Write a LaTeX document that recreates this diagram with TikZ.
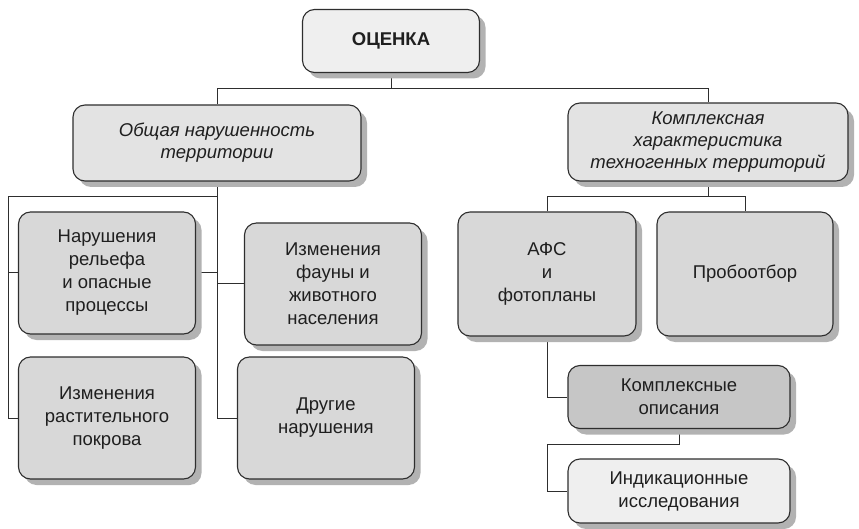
\documentclass[tikz,border=0pt]{standalone}
\usepackage{fontspec}
\setmainfont{Liberation Sans}
\usetikzlibrary{shadows,backgrounds}
\definecolor{edge}{HTML}{2E2E2E}
\definecolor{shade}{HTML}{B2B2B2}
\definecolor{lightfill}{HTML}{EFEFEF}
\definecolor{midfill}{HTML}{E3E3E3}
\definecolor{boxfill}{HTML}{D8D8D8}
\definecolor{darkfill}{HTML}{C6C6C6}

\begin{document}
\begin{tikzpicture}[x=1pt, y=-1pt,
    every node/.style={font=\fontsize{18.5}{23}\selectfont, text=black!88},
    box/.style={draw=edge, line width=1.1pt, rounded corners=12pt, align=center, inner sep=0pt,
      drop shadow={shadow xshift=6pt, shadow yshift=-6pt, fill=shade, opacity=1}},
    tall/.style={box, fill=boxfill, minimum width=177pt, minimum height=122pt},
    link/.style={draw=edge, line width=1pt}]
    \useasboundingbox (0,0) rectangle (859,529);
    \node[box, fill=lightfill, minimum width=177pt, minimum height=63pt, font=\fontsize{18.5}{23}\selectfont\bfseries] (root) at (391,41) {ОЦЕНКА};
    \node[box, fill=midfill, minimum width=288pt, minimum height=76pt, font=\fontsize{18.5}{22}\selectfont\itshape] (gen) at (217,143) {Общая нарушенность\\территории};
    \node[box, fill=midfill, minimum width=280pt, minimum height=78pt, font=\fontsize{18.5}{22}\selectfont\itshape] (tech) at (708,142) {Комплексная\\характеристика\\техногенных территорий};
    \node[tall] (relief) at (107,273) {Нарушения\\рельефа\\и опасные\\процессы};
    \node[tall] (fauna) at (333,284) {Изменения\\фауны и\\животного\\населения};
    \node[tall] (veg) at (107,418) {Изменения\\растительного\\покрова};
    \node[tall] (other) at (326,418) {Другие\\нарушения};
    \node[tall, minimum width=178pt, minimum height=124pt] (afs) at (547,274) {АФС\\и\\фотопланы};
    \node[tall, minimum width=176pt, minimum height=124pt] (probe) at (745,274) {Пробоотбор};
    \node[box, fill=darkfill, minimum width=222pt, minimum height=63pt] (desc) at (679,397) {Комплексные\\описания};
    \node[box, fill=lightfill, minimum width=222pt, minimum height=64pt] (ind) at (679,491) {Индикационные\\исследования};

    \begin{scope}[on background layer]
    \draw[link] (root.south) -- ++(0,15) coordinate (top);
    \draw[link] (gen.north) |- (top) -| (tech.north);
    % left branch
    \draw[link] (gen.south) -- ++(0,15) coordinate (lbus);
    \draw[link] (lbus) -- ++(-209,0) coordinate (lrail);
    \draw[link] (lrail) |- (veg.west);
    \draw[link] (relief.west -| lrail) -- (relief.east -| gen.south);
    \draw[link] (gen.south) |- (other.west);
    \draw[link] (fauna.west -| gen.south) -- (fauna.west);
    % right branch
    \draw[link] (tech.south) -- ++(0,15) coordinate (rbus);
    \draw[link] (afs.north) |- (rbus) -| (probe.north);
    \draw[link] (afs.south) |- (desc.west);
    \draw[link] (desc.south) -- ++(0,15) -| (afs.south |- ind.west) -- (ind.west);
    \end{scope}
\end{tikzpicture}
\end{document}
